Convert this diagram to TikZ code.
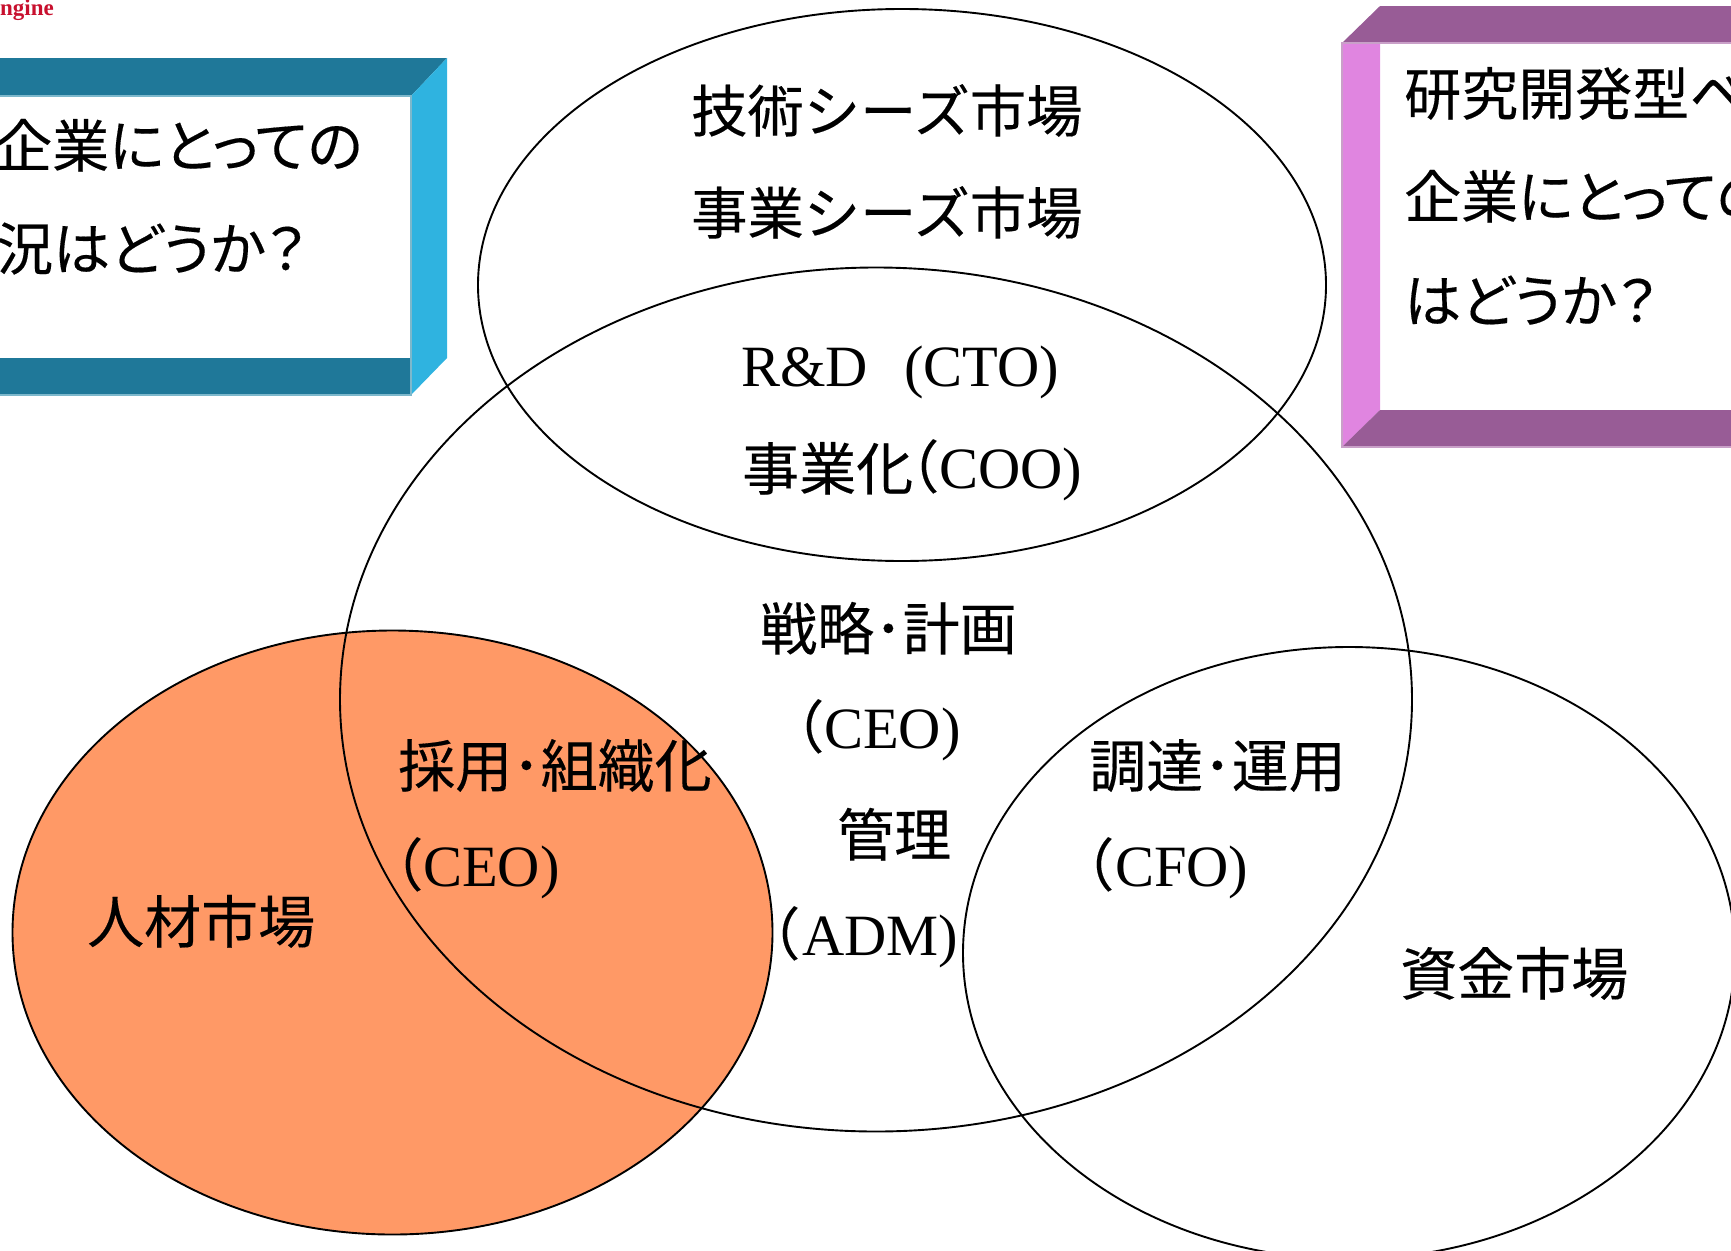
\documentclass[tikz,border=0pt]{standalone}
\usepackage{fontspec}
\setmainfont{Liberation Serif}
\newfontfamily\jp[FakeBold=0.25]{Noto Sans CJK JP}
\newfontfamily\jpp[FakeBold=0.25,RawFeature=+palt]{Noto Sans CJK JP}
\usetikzlibrary{shapes.geometric}
\tikzset{
  venn/.style={ellipse,draw=black,line width=1.9pt,inner sep=0pt},
  lbl/.style={anchor=base west,inner sep=0pt,font=\fontsize{57}{60}\selectfont},
  lblkana/.style={anchor=base west,inner sep=0pt,font=\fontsize{56.3}{60}\selectfont},
  lat/.style={anchor=base west,inner sep=0pt,font=\fontsize{58.5}{60}\selectfont},
  frameedge/.style={line width=1.6pt},
}
\definecolor{bluedark}{HTML}{1F7899}
\definecolor{bluelight}{HTML}{2FB3E0}
\definecolor{blueedge}{HTML}{7DB8CC}
\definecolor{purpdark}{HTML}{985C96}
\definecolor{purplight}{HTML}{E085E0}
\definecolor{purpedge}{HTML}{C9A0C8}
\definecolor{orangefill}{HTML}{FF9966}
\definecolor{logored}{HTML}{C8102E}
\newcommand{\jparen}{{\jp\fontsize{57}{60}\selectfont （}}
\begin{document}
\begin{tikzpicture}[x=1pt,y=-1pt]
\useasboundingbox (0,0) rectangle (1731,1250);
\clip (0,0) rectangle (1731,1250);
% left frame
\fill[bluedark] (-5,58) -- (447,58) -- (411,96) -- (-5,96) -- cycle;
\fill[bluedark] (-5,358) -- (411,358) -- (411,395) -- (-5,395) -- cycle;
\fill[bluelight] (411,96) -- (447,58) -- (447,358) -- (411,395) -- cycle;
\draw[blueedge,frameedge] (-5,96) -- (411,96) -- (411,395) -- (-5,395);
% right frame
\fill[purpdark] (1342,43) -- (1380,6) -- (1736,6) -- (1736,43) -- cycle;
\fill[purplight] (1342,43) -- (1380,43) -- (1380,410) -- (1342,447) -- cycle;
\fill[purpdark] (1380,410) -- (1736,410) -- (1736,447) -- (1342,447) -- cycle;
\draw[purpedge,frameedge] (1736,43) -- (1342,43) -- (1342,447) -- (1736,447);
% ellipses
\node[venn,fill=orangefill,minimum width=760pt,minimum height=604pt] (hr) at (392.5,932.5) {};
\node[venn,minimum width=848pt,minimum height=552pt] (tech) at (902,285) {};
\node[venn,minimum width=1072pt,minimum height=864pt] (core) at (876,699.5) {};
\node[venn,minimum width=772pt,minimum height=612pt] (fund) at (1349,953) {};
% logo
\node[anchor=base west,inner sep=0pt,text=logored,font=\bfseries\fontsize{23}{24}\selectfont] (logo) at (0,15) {ngine};
% labels
\node[lblkana] (a1) at (691,132) {\jp 技術シーズ市場};
\node[lblkana] (a2) at (691,234) {\jp 事業シーズ市場};
\node[lat] (b1) at (741,386) {R\&D\hspace{0.62em}(CTO)};
\node[lat] (b2) at (742,488) {\raisebox{-2pt}{\jp\fontsize{57}{60}\selectfont 事業化}\hspace{-31pt}\jparen COO)};
\node[lbl] (c1) at (760,650) {\jp 戦略･計画};
\node[lat] (c2) at (767,748) {\jparen CEO)};
\node[lbl] (c3) at (837,856) {\jp 管理};
\node[lat] (c4) at (743,955) {\jparen\hspace{2pt}ADM)};
\node[lbl] (d1) at (398,787) {\jp 採用･組織化};
\node[lat] (d2) at (366,886) {\jparen CEO)};
\node[lbl] (e1) at (87,943) {\jp 人材市場};
\node[lbl] (f1) at (1089,787) {\jp 調達･運用};
\node[lat] (f2) at (1057,886) {\jparen\hspace{1pt}CFO)};
\node[lbl] (g1) at (1400,995) {\jp 資金市場};
\node[lbl] (l1) at (-5,167) {\jpp 企業にとっての};
\node[lbl] (l2) at (-4,270) {\jpp 況はどうか？};
\node[lbl] (r1) at (1404,115) {\jpp 研究開発型ベ};
\node[lbl] (r2) at (1404,218) {\jpp 企業にとっての};
\node[lbl] (r3) at (1404,322) {\jpp はどうか？};
\end{tikzpicture}
\end{document}
